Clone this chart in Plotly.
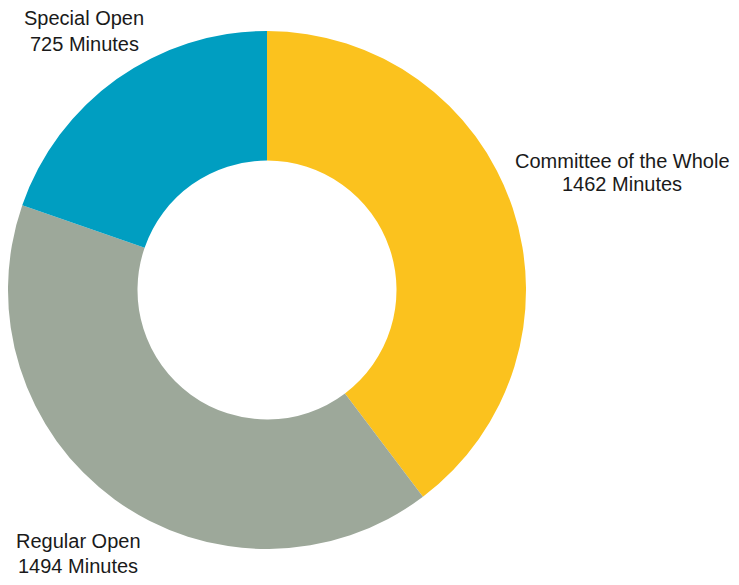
import plotly.graph_objects as go

categories = ["Committee of the Whole", "Regular Open", "Special Open"]
minutes = [1462, 1494, 725]
colors = ["#FBC21E", "#9DA89A", "#009EC1"]

OFF = 8  # default page body margin
W, H = 739 - OFF, 585 - OFF
cx, cy, r = 267 - OFF, 290 - OFF, 259

fig = go.Figure(go.Pie(
    labels=categories,
    values=minutes,
    hole=0.5,
    sort=False,
    direction="clockwise",
    rotation=0,
    textinfo="none",
    marker=dict(colors=colors, line=dict(width=0)),
    domain=dict(x=[max(0, (cx - r) / W), (cx + r) / W],
                y=[1 - (cy + r) / H, 1 - (cy - r) / H]),
    showlegend=False,
    hoverinfo="label+value",
))

# (x center, y of line 1, y of line 2) in page pixels
label_pos = {
    "Committee of the Whole": (622, 160.5, 184.5),
    "Regular Open": (78, 540.5, 565.5),
    "Special Open": (84, 18.5, 44),
}
font = dict(family="Liberation Sans, Arial, sans-serif", size=20, color="#1a1a1a")
for cat, val in zip(categories, minutes):
    px, py1, py2 = label_pos[cat]
    for txt, py in ((cat, py1), (f"{val} Minutes", py2)):
        fig.add_annotation(
            x=(px - OFF) / W, y=1 - (py - OFF) / H, xref="paper", yref="paper",
            text=txt, showarrow=False,
            xanchor="center", yanchor="middle", align="center",
            font=font,
        )

fig.update_layout(
    width=W, height=H,
    margin=dict(l=0, r=0, t=0, b=0),
    paper_bgcolor="white", plot_bgcolor="white",
)
fig.write_html("out.html")
